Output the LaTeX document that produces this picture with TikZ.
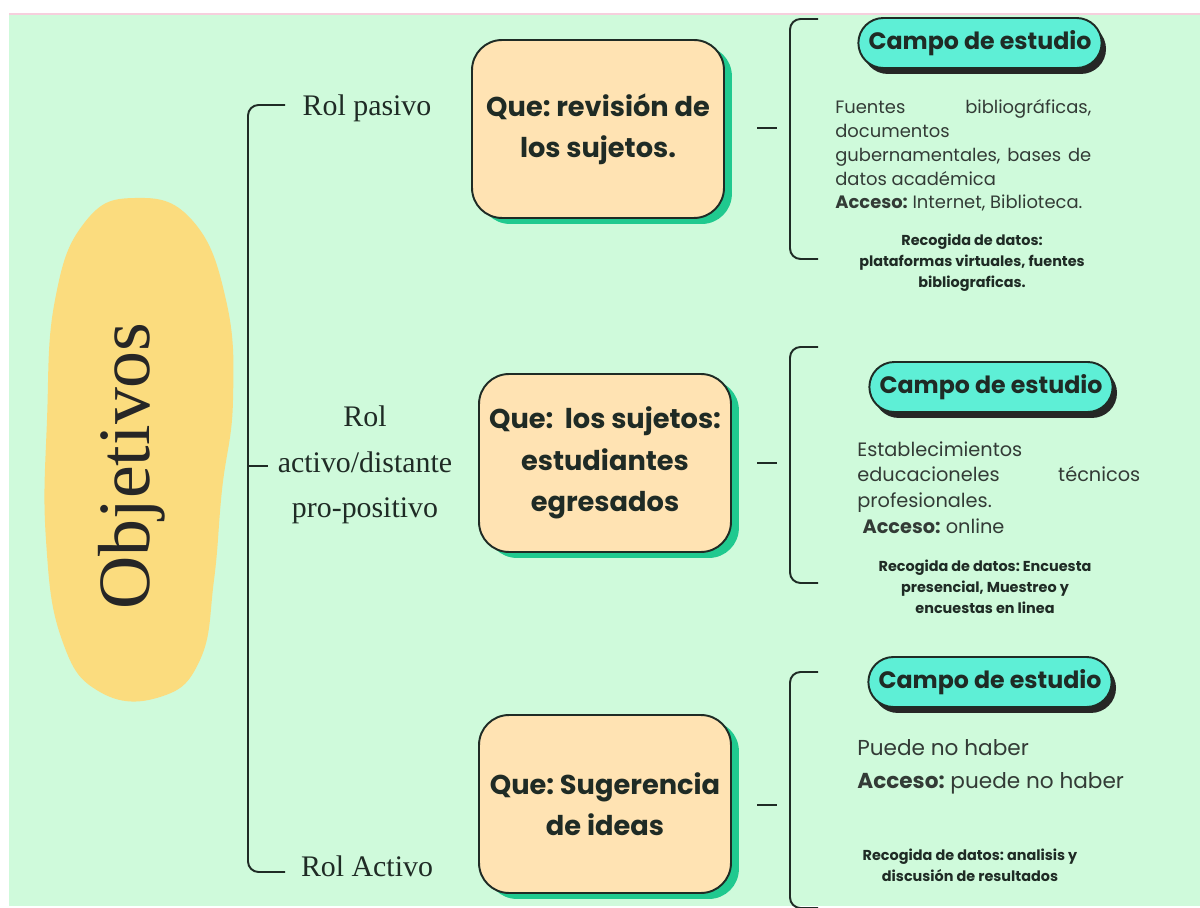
\documentclass[tikz,border=0pt]{standalone}
\usepackage{fontspec}
\setmainfont{Liberation Serif}
\newfontfamily\popfont{Poppins}
\usepackage{xcolor}
\usepackage{tikz}
\usetikzlibrary{shapes.misc, shadows, positioning}

\definecolor{bgmint}{HTML}{CFFADB}
\definecolor{blobyellow}{HTML}{FBDC7E}
\definecolor{boxfill}{HTML}{FFE3B3}
\definecolor{boxshade}{HTML}{20C98F}
\definecolor{pillfill}{HTML}{5EEFD6}
\definecolor{inkdark}{HTML}{1F2B25}
\definecolor{inkgrey}{HTML}{333B36}
\definecolor{toppink}{HTML}{F6CFDD}

\tikzset{
  quebox/.style={draw=inkdark, line width=1.1pt, fill=boxfill, rounded corners=0.6cm,
    minimum width=5.04cm, minimum height=3.56cm, align=center, text=inkdark,
    font=\popfont\bfseries\fontsize{15.5}{23.5}\selectfont,
    drop shadow={fill=boxshade, opacity=1, shadow xshift=4.5pt, shadow yshift=-3.4pt}},
  campo/.style={rounded rectangle, draw=inkdark, line width=1.1pt, fill=pillfill,
    minimum width=5.1cm, minimum height=1cm, text=inkdark,
    font=\popfont\bfseries\fontsize{13.5}{16}\selectfont,
    drop shadow={fill=black!85, opacity=1, shadow xshift=2.5pt, shadow yshift=-3.4pt}},
  rol/.style={align=center, text=inkdark, font=\fontsize{17}{26}\selectfont},
  detalle/.style={anchor=north west, inner sep=0pt, align=left, text=inkgrey},
  recogida/.style={anchor=north, inner sep=0pt, align=center, text=inkdark,
    font=\popfont\bfseries\fontsize{8.2}{11.8}\selectfont},
  llave/.style={draw=inkdark, line width=1.1pt, rounded corners=6pt},
}
\newcommand{\lineajust}[2]{\makebox[#1][l]{#2}}

\begin{document}
\frenchspacing
\begin{tikzpicture}[x=0.02cm, y=-0.02cm]
  \useasboundingbox (0,0) rectangle (1200,908);
  \fill[white] (0,0) rectangle (1200,908);
  \fill[bgmint] (9,14) rectangle (1200,906);
  \draw[toppink, line width=0.6pt] (9,14) -- (1200,14);

  % mancha amarilla
  \fill[blobyellow] plot[smooth cycle, tension=0.75] coordinates {
    (135,198) (192,220) (226,300) (233,400) (222,490) (214,580)
    (200,660) (160,697) (100,692) (62,640) (46,540) (47,420) (55,300) (85,222)};
  \node[rotate=90, text=black!85, font=\fontsize{42}{44}\selectfont] (obj) at (132,466) {Objetivos};

  % roles
  \node[rol] (pasivo) at (367,108) {Rol pasivo};
  \node[rol] (distante) at (365,465) {Rol\\activo/distante\\pro-positivo};
  \node[rol] (activo) at (367,866) {Rol Activo};

  \coordinate (lt) at (285,105);
  \coordinate (lm) at (268,466);
  \coordinate (lb) at (285,872);
  \draw[llave] (lt) -- (248,105) -- (248,872) -- (lb);
  \draw[llave] (248,466) -- (lm);

  % que
  \node[quebox] (que1) at (598,129) {Que: revisión de\\los sujetos.};
  \node[quebox] (que2) at (605,463) {Que:\ \ los sujetos:\\estudiantes\\egresados};
  \node[quebox] (que3) at (605,804) {Que: Sugerencia\\de ideas};

  \coordinate (g1) at (757,128);
  \coordinate (g2) at (757,463);
  \coordinate (g3) at (757,805);
  \draw[llave] (g1) -- ++(20,0);
  \draw[llave] (g2) -- ++(20,0);
  \draw[llave] (g3) -- ++(20,0);

  % llaves derechas
  \coordinate (a1) at (818,19);
  \coordinate (b1) at (818,259);
  \coordinate (a2) at (818,347);
  \coordinate (b2) at (818,583);
  \coordinate (a3) at (818,672);
  \coordinate (b3) at (818,908);
  \draw[llave] (a1) -- (790,19) -- (790,259) -- (b1);
  \draw[llave] (a2) -- (790,347) -- (790,583) -- (b2);
  \draw[llave] (a3) -- (790,672) -- (790,908) -- (b3);

  % campo de estudio
  \node[campo] (campo1) at (980,43) {Campo de estudio};
  \node[campo] (campo2) at (991,387) {Campo de estudio};
  \node[campo] (campo3) at (990,682) {Campo de estudio};

  \node[detalle, font=\popfont\fontsize{10.2}{13.6}\selectfont] (det1) at (835,99) {%
    \lineajust{5.12cm}{Fuentes\hfill bibliográficas,}\\
    documentos\\
    \lineajust{5.12cm}{gubernamentales,\hfill bases\hfill de}\\
    datos académica\\
    \textbf{Acceso:} Internet, Biblioteca.};
  \node[recogida] (rec1) at (972,234) {Recogida de datos:\\plataformas virtuales, fuentes\\bibliograficas.};

  \node[detalle, font=\popfont\fontsize{11}{14.7}\selectfont] (det2) at (857,441) {%
    Establecimientos\\
    \lineajust{5.66cm}{educacioneles\hfill técnicos}\\
    profesionales.\\
    \ \textbf{Acceso:} online};
  \node[recogida] (rec2) at (985,560) {Recogida de datos: Encuesta\\presencial, Muestreo y\\encuestas en linea};

  \node[detalle, font=\popfont\fontsize{12.3}{18.7}\selectfont] (det3) at (857,739) {%
    Puede no haber\\
    \textbf{Acceso:} puede no haber};
  \node[recogida] (rec3) at (970,849) {Recogida de datos: analisis y\\discusión de resultados};
\end{tikzpicture}
\end{document}
